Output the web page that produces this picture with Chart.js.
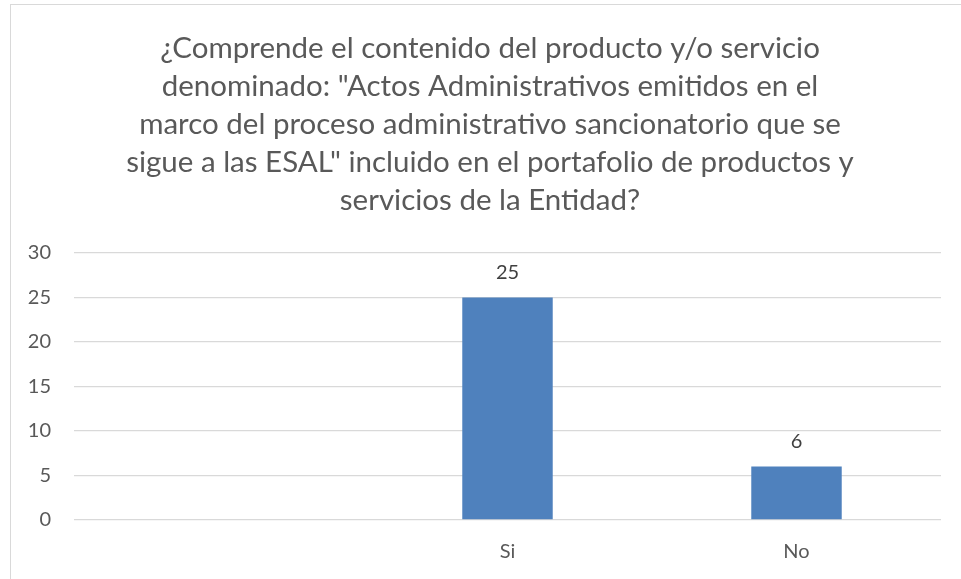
<!DOCTYPE html>
<html>
<head>
<meta charset="utf-8">
<script src="https://cdn.jsdelivr.net/npm/chart.js@4"></script>
<style>
  html, body { margin: 0; padding: 0; background: #fff; overflow: hidden; }
  .frame {
    position: absolute; left: 10px; top: 4px; width: 1000px; height: 700px;
    border-left: 1px solid #d9d9d9; border-top: 1px solid #d9d9d9;
  }
  #chart { position: absolute; left: 0; top: 0; }
</style>
</head>
<body>
<div class="frame"></div>
<canvas id="chart" width="961" height="579"></canvas>
<script>
const titleLines = [
    '¿Comprende el contenido del producto y/o servicio',
    'denominado: "Actos Administrativos emitidos en el',
    'marco del proceso administrativo sancionatorio que se',
    'sigue a las ESAL" incluido en el portafolio de productos y',
    'servicios de la Entidad?'
];
const categories = ['', 'Si', 'No'];
const responses = [null, 25, 6];
const yTicks = [0, 5, 10, 15, 20, 25, 30];

const FONT = 'Lato';
const TEXT = '#595959';

// value labels above each bar
const barLabels = {
    id: 'barLabels',
    afterDatasetsDraw(chart) {
        const ctx = chart.ctx;
        const meta = chart.getDatasetMeta(0);
        ctx.save();
        ctx.font = '20px ' + FONT;
        ctx.fillStyle = '#404040';
        ctx.textAlign = 'center';
        ctx.textBaseline = 'middle';
        meta.data.forEach((bar, i) => {
            if (responses[i] == null) return;
            ctx.fillText(String(responses[i]), bar.x, bar.y - 25);
        });
        ctx.restore();
    }
};

// the frame is wider than the window, so centre the title on the frame
const titleShift = {
    id: 'titleShift',
    afterLayout(chart) {
        if (chart.titleBlock) chart.titleBlock.left += 39;
    }
};

const ctx = document.getElementById('chart').getContext('2d');
new Chart(ctx, {
    type: 'bar',
    data: {
        labels: categories,
        datasets: [{
            data: responses,
            backgroundColor: '#4f81bd',
            borderWidth: 0,
            barPercentage: 0.313,
            categoryPercentage: 1
        }]
    },
    options: {
        responsive: false,
        animation: false,
        layout: { padding: { left: 0, right: 20, top: 29, bottom: 0 } },
        plugins: {
            legend: { display: false },
            tooltip: { enabled: false },
            title: {
                display: true,
                text: titleLines,
                color: TEXT,
                font: { family: FONT, size: 29.5, weight: 'normal', lineHeight: 1.295 },
                padding: { top: 0, bottom: 33 }
            }
        },
        scales: {
            x: {
                grid: { display: false, drawTicks: false },
                border: { display: false },
                ticks: { color: TEXT, font: { family: FONT, size: 20 }, padding: 20 },
                afterFit: (scale) => { scale.height = 59; }
            },
            y: {
                min: 0,
                max: 30,
                afterBuildTicks: (scale) => { scale.ticks = yTicks.map(v => ({ value: v })); },
                grid: { color: '#d9d9d9', lineWidth: 1.3, drawTicks: false },
                border: { display: false },
                ticks: { color: TEXT, font: { family: FONT, size: 20 }, padding: 23 },
                afterFit: (scale) => { scale.width = 74; }
            }
        }
    },
    plugins: [barLabels, titleShift]
});
</script>
</body>
</html>
